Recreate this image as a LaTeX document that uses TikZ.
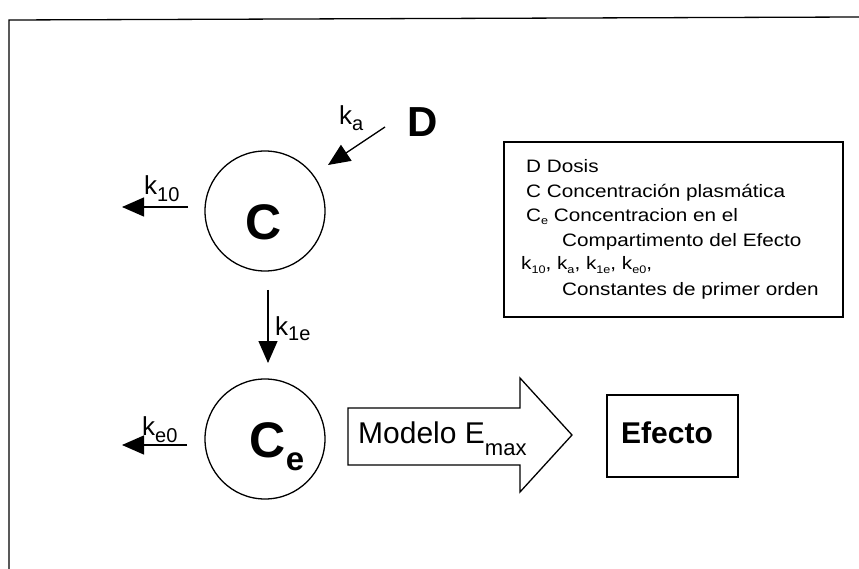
\documentclass[tikz,border=0pt]{standalone}
\usepackage{fontspec}
\setmainfont{Liberation Sans}
\newfontfamily\legfont{Liberation Sans}[FakeStretch=1.15]
\usetikzlibrary{arrows.meta}
\newcommand\lsub[1]{\raisebox{-3pt}{\fontsize{11}{11}\selectfont #1}}
\newcommand\ksb[2]{\raisebox{#1}{\fontsize{20}{20}\selectfont #2}}
\tikzset{
  circ/.style={draw, circle, line width=1.3pt, minimum size=120pt, inner sep=0pt},
  arr/.style={line width=1.3pt, -{Triangle[length=22pt,width=19pt]}},
  lab/.style={anchor=base west, inner sep=0pt, font=\fontsize{26}{26}\selectfont},
  leg/.style={anchor=base west, inner sep=0pt, font=\legfont\fontsize{18}{18}\selectfont},
  big/.style={anchor=base west, inner sep=0pt, font=\bfseries\fontsize{50}{50}\selectfont},
  frame/.style={line width=1.3pt},
}
\begin{document}
\begin{tikzpicture}[x=1pt,y=-1pt]
\useasboundingbox (0,0) rectangle (859,569);
\fill[white] (0,0) rectangle (859,569);
% outer frame (partly cut)
\draw[frame] (859,17) -- (9,20) -- (9,569);

% compartments
\node[circ] (C) at (265,211) {};
\node[circ] (Ce) at (265,439) {};
\node[big] (Ctxt) at (245.5,240) {C};
\node[big] (Cetxt) at (249.5,457) {C\raisebox{-13pt}{\fontsize{33}{33}\selectfont e}};
\node[anchor=base west, inner sep=0pt, font=\bfseries\fontsize{42}{42}\selectfont] (D) at (407,137) {D};

% arrows
\coordinate (kaS) at (385,127);
\coordinate (kaE) at (328,165);
\coordinate (k10S) at (188,207);
\coordinate (k10E) at (122,207);
\coordinate (k1eS) at (268,290);
\coordinate (k1eE) at (268,363);
\coordinate (ke0S) at (187,445);
\coordinate (ke0E) at (122,445);
\draw[arr] (kaS) -- (kaE);
\draw[arr] (k10S) -- (k10E);
\draw[arr] (k1eS) -- (k1eE);
\draw[arr] (ke0S) -- (ke0E);

\node[lab] (ka) at (339,125) {k\ksb{-6pt}{a}};
\node[lab] (k10) at (144,195) {k\ksb{-7pt}{10}};
\node[lab] (k1e) at (275,335) {k\ksb{-5pt}{1e}};
\node[lab] (ke0) at (142,435) {k\ksb{-7pt}{e0}};

% Emax arrow
\draw[frame] (348,408) -- (520,408) -- (520,378) -- (572,435) -- (520,492) -- (520,465) -- (348,465) -- cycle;
\node[anchor=base west, inner sep=0pt, font=\fontsize{30}{30}\selectfont] (modelo) at (358,443)
  {Modelo E\raisebox{-12pt}{\fontsize{22}{22}\selectfont max}};

% Efecto box
\draw[frame] (607,395) rectangle (738,477);
\node[anchor=base west, inner sep=0pt, font=\bfseries\fontsize{30}{30}\selectfont] (efecto) at (621,443) {Efecto};

% legend
\draw[frame] (504,142) rectangle (843,317);
\node[leg] (l1) at (526,173) {D Dosis};
\node[leg] (l2) at (526,198) {C Concentración plasmática};
\node[leg] (l3) at (526,222) {C\lsub{e} Concentracion en el};
\node[leg] (l4) at (562,247) {Compartimento del Efecto};
\node[leg] (l5) at (521,270) {k\lsub{10}, k\lsub{a}, k\lsub{1e}, k\lsub{e0},};
\node[leg] (l6) at (562,295) {Constantes de primer orden};
\end{tikzpicture}
\end{document}
